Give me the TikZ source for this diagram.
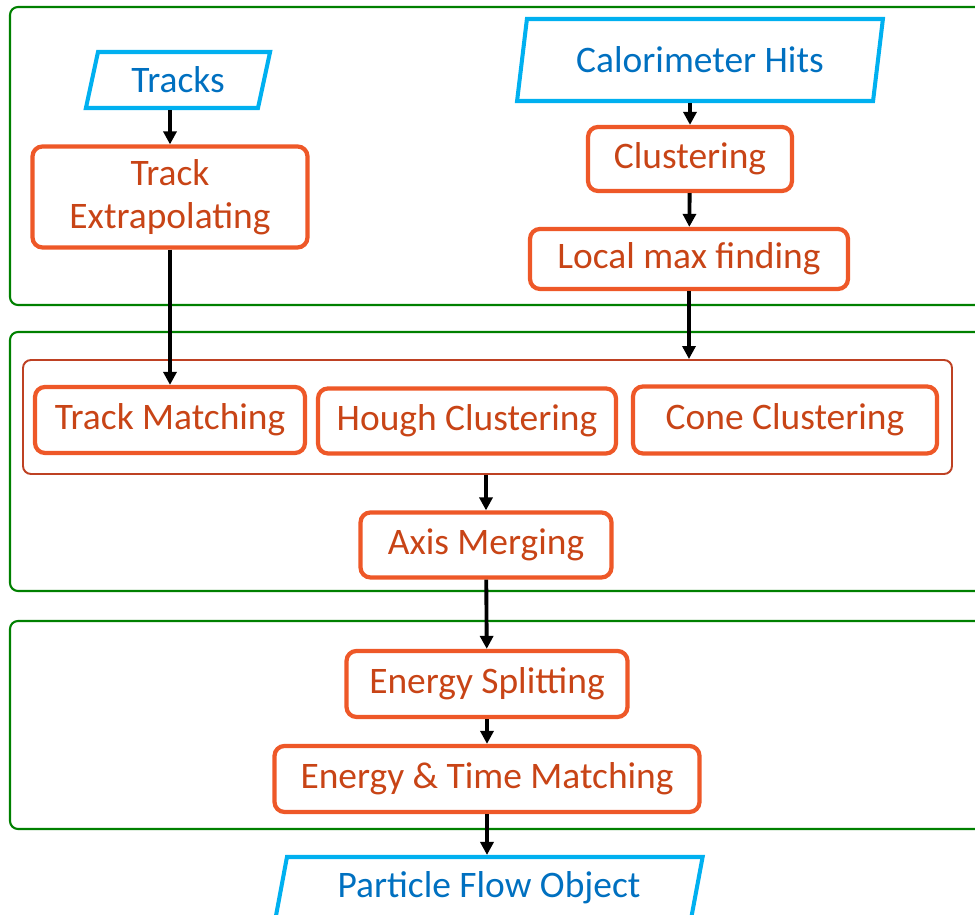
\documentclass[tikz,border=0pt]{standalone}
\usepackage{fontspec}
\setmainfont{Carlito}
\usetikzlibrary{shapes.geometric,arrows.meta,positioning,calc}
\definecolor{stepline}{RGB}{238,88,40}
\definecolor{steptext}{RGB}{200,68,22}
\definecolor{ioline}{RGB}{0,176,240}
\definecolor{iotext}{RGB}{0,112,192}
\definecolor{stageline}{RGB}{0,128,0}
\definecolor{groupline}{RGB}{190,65,35}
\tikzstyle{io} = [trapezium, trapezium left angle=75, trapezium right angle=105, trapezium stretches=true, draw=ioline, line width=2.3pt, text=iotext, inner sep=0pt, font=\fontsize{21.3}{24.5}\selectfont]
\tikzstyle{proc} = [rectangle, rounded corners=0.2cm, draw=stepline, line width=2.4pt, text=steptext, align=center, inner sep=0pt, font=\fontsize{21.3}{24.5}\selectfont]
\tikzstyle{group} = [rectangle, rounded corners=0.16cm, draw=groupline, line width=1.1pt, inner sep=0pt]
\tikzstyle{stage} = [rounded corners=0.16cm, draw=stageline, line width=1.2pt]
\tikzstyle{arrow} = [line width=2.2pt, -{Triangle[length=2.6mm,width=2.6mm]}]

\begin{document}
\begin{tikzpicture}
\useasboundingbox (0,0) rectangle (19.5,18.3);
% the three stages, open to the right
\draw[stage] (0.2,18.16) rectangle (20.5,12.2);
\draw[stage] (0.2,11.66) rectangle (20.5,6.48);
\draw[stage] (0.2,5.88) rectangle (20.5,1.72);
% inputs
\node (tracks) [io, minimum width=3.7cm, minimum height=1.12cm] at (3.56,16.70) {Tracks};
\node (calo) [io, minimum width=7.32cm, minimum height=1.64cm] at (14.0,17.10) {Calorimeter Hits};
% stage 1
\node (trkext) [proc, minimum width=5.5cm, minimum height=2.02cm] at (3.40,14.36) {Track\\Extrapolating};
\node (clus) [proc, minimum width=4.08cm, minimum height=1.28cm] at (13.80,15.12) {Clustering};
\node (lmax) [proc, minimum width=6.36cm, minimum height=1.2cm] at (13.78,13.12) {Local max finding};
% stage 2
\node (grp) [group, minimum width=18.58cm, minimum height=2.28cm] at (9.75,9.96) {};
\node (trkmatch) [proc, minimum width=5.4cm, minimum height=1.32cm] at (3.40,9.90) {Track Matching};
\node (hough) [proc, minimum width=5.96cm, minimum height=1.30cm] at (9.34,9.88) {Hough Clustering};
\node (cone) [proc, minimum width=6.08cm, minimum height=1.34cm] at (15.70,9.90) {Cone Clustering};
\node (axis) [proc, minimum width=5.02cm, minimum height=1.30cm] at (9.72,7.40) {Axis Merging};
% stage 3
\node (esplit) [proc, minimum width=5.62cm, minimum height=1.32cm] at (9.74,4.62) {Energy Splitting};
\node (etmatch) [proc, minimum width=8.5cm, minimum height=1.32cm] at (9.74,2.72) {Energy \& Time Matching};
% output
\node (pfo) [io, minimum width=8.56cm, minimum height=1.24cm] at (9.78,0.54) {Particle Flow Object};

\draw[arrow] (tracks.south -| trkext) -- (trkext.north);
\draw[arrow] (trkext) -- (trkmatch);
\draw[arrow] (calo.south -| clus) -- (clus.north);
\draw[arrow] (clus) -- (lmax);
\draw[arrow] (lmax.south) -- (lmax.south |- grp.north);
\draw[arrow] (grp.south -| axis) -- (axis.north);
\draw[arrow] (axis) -- (esplit);
\draw[arrow] (esplit) -- (etmatch);
\draw[arrow] (etmatch.south) -- (etmatch.south |- pfo.north);
\end{tikzpicture}
\end{document}
